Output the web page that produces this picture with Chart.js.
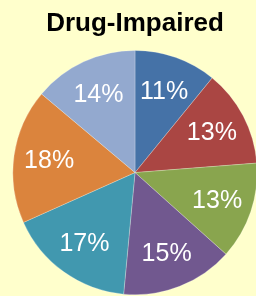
<!DOCTYPE html>
<html>
<head>
<meta charset="utf-8">
<script src="https://cdn.jsdelivr.net/npm/chart.js@4"></script>
<style>
  html, body { margin: 0; padding: 0; background: #FFFFCC; overflow: hidden; }
  #wrap { position: absolute; left: 0; top: 0; width: 270px; height: 296px; }
</style>
</head>
<body>
<div id="wrap"><canvas id="pie"></canvas></div>
<script>
const categories = ['A', 'B', 'C', 'D', 'E', 'F', 'G'];
const shares = [11, 13, 13, 15, 17, 18, 14];
const sliceColors = ['#4572A7', '#AA4643', '#89A54E', '#71588F', '#4198AF', '#DB843D', '#93A9CF'];

// draws the percent text inside each slice
const pctLabels = {
  id: 'pctLabels',
  afterDatasetsDraw(chart) {
    const ctx = chart.ctx;
    const meta = chart.getDatasetMeta(0);
    ctx.save();
    ctx.fillStyle = '#ffffff';
    ctx.font = '25px "Liberation Sans", Arial, sans-serif';
    ctx.textAlign = 'center';
    ctx.textBaseline = 'middle';
    meta.data.forEach((arc, i) => {
      const mid = (arc.startAngle + arc.endAngle) / 2;
      const r = arc.outerRadius * 0.71;
      ctx.fillText(shares[i] + '%', arc.x + Math.cos(mid) * r, arc.y + Math.sin(mid) * r + 1);
    });
    ctx.restore();
  }
};

new Chart(document.getElementById('pie'), {
  type: 'pie',
  data: {
    labels: categories,
    datasets: [{
      data: shares,
      backgroundColor: sliceColors,
      borderColor: 'rgba(255,255,255,0.5)',
      borderWidth: 0.5
    }]
  },
  options: {
    responsive: true,
    maintainAspectRatio: false,
    animation: false,
    layout: { padding: { bottom: 1 } },
    plugins: {
      legend: { display: false },
      tooltip: { enabled: false },
      title: {
        display: true,
        text: 'Drug-Impaired',
        color: '#000000',
        font: { family: '"Liberation Sans", Arial, sans-serif', size: 26, weight: 'bold' },
        padding: { top: 8, bottom: 11 }
      }
    }
  },
  plugins: [pctLabels]
});
</script>
</body>
</html>
